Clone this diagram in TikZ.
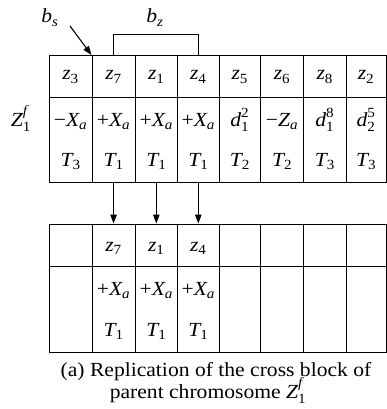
\documentclass[tikz,border=0pt]{standalone}
\usepackage{amsmath}
\usepackage{fontspec}
\setmainfont{Liberation Serif}[FakeStretch=1.08]
\usetikzlibrary{arrows.meta}
\newcommand\mI[1]{\textit{#1}}
\newcommand\mR[1]{\textrm{#1}}
\newcommand\sy[2]{$\mI{#1}_{#2}$}
\newcommand\syy[3]{$\mI{#1}_{#2}^{#3}$}
\begin{document}
\begin{tikzpicture}[x=1pt,y=-1pt,
  cell/.style={draw,line width=1.1pt,inner sep=0pt,anchor=north west},
  txt/.style={inner sep=0pt,anchor=base,font=\fontsize{20}{22}\selectfont},
  captxt/.style={inner sep=0pt,anchor=base,font=\fontsize{20}{22}\selectfont},
  arr/.style={line width=1.1pt,-{Triangle[length=9pt,width=6.5pt]}}]
\useasboundingbox (0,0) rectangle (386,409);
% table cells
\foreach \i/\xa/\xb in {1/48.5/91.5,2/91.5/134.5,3/134.5/177,4/177/218.5,5/218.5/260,6/260/303,7/303/345.5,8/345.5/385.5}{
  \node[cell,minimum width={\xb pt-\xa pt},minimum height=42pt] (ta\i) at (\xa,55) {};
  \node[cell,minimum width={\xb pt-\xa pt},minimum height=85pt] (tb\i) at (\xa,97) {};
  \node[cell,minimum width={\xb pt-\xa pt},minimum height=42.2pt] (la\i) at (\xa,223.5) {};
  \node[cell,minimum width={\xb pt-\xa pt},minimum height=86pt] (lb\i) at (\xa,265.7) {};
}
% top table texts
\foreach \i/\t in {1/{\sy{z}{\mR{3}}},2/{\sy{z}{\mR{7}}},3/{\sy{z}{\mR{1}}},4/{\sy{z}{\mR{4}}},5/{\sy{z}{\mR{5}}},6/{\sy{z}{\mR{6}}},7/{\sy{z}{\mR{8}}},8/{\sy{z}{\mR{2}}}}{
  \node[txt] (tz\i) at (ta\i.center |- 0,80) {\t};
}
\foreach \i/\t in {1/{−\sy{X}{\mI{a}}},2/{+\sy{X}{\mI{a}}},3/{+\sy{X}{\mI{a}}},4/{+\sy{X}{\mI{a}}},5/{\syy{d}{\mR{1}}{\mR{2}}},6/{−\sy{Z}{\mI{a}}},7/{\syy{d}{\mR{1}}{\mR{8}}},8/{\syy{d}{\mR{2}}{\mR{5}}}}{
  \node[txt] (tx\i) at (tb\i.center |- 0,126.3) {\t};
}
\foreach \i/\t in {1/3,2/1,3/1,4/1,5/2,6/2,7/3,8/3}{
  \node[txt] (tt\i) at (tb\i.center |- 0,166) {\sy{T}{\mR{\t}}};
}
% lower table texts
\foreach \i/\t in {2/7,3/1,4/4}{
  \node[txt] (lz\i) at (la\i.center |- 0,251) {\sy{z}{\mR{\t}}};
  \node[txt] (lx\i) at (lb\i.center |- 0,295.5) {+\sy{X}{\mI{a}}};
  \node[txt] (lt\i) at (lb\i.center |- 0,336.5) {\sy{T}{\mR{1}}};
}
% labels
\node[txt] (bs) at (50,23) {\sy{b}{\mI{s}}};
\node[txt] (bz) at (155,23) {\sy{b}{\mI{z}}};
\node[txt] (zf) at (21,126) {\syy{Z}{\mR{1}}{\mI{f}}};
\coordinate (bsfrom) at (70,26);
\draw[arr] (bsfrom) -- (ta2.north west);
\draw[line width=1.1pt] (ta2.north) -- ++(0,-20.7) -| (ta4.north);
% copy arrows
\foreach \i in {2,3,4}{
  \draw[arr] (tb\i.south) -- (la\i.north);
}
% caption
\node[captxt] (c1) at (216,376.5) {(a) Replication of the cross block of};
\node[captxt] (c2) at (208,398) {parent chromosome \syy{Z}{\mR{1}}{\mI{f}}};
\end{tikzpicture}
\end{document}
